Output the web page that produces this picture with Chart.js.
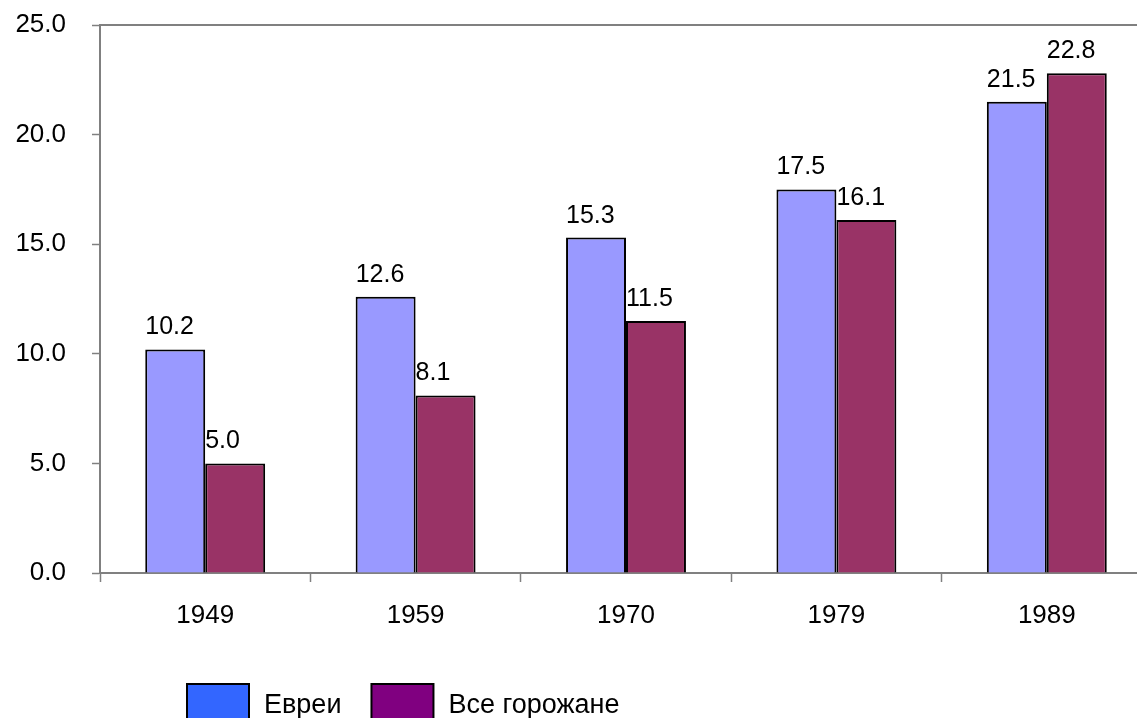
<!DOCTYPE html>
<html>
<head>
<meta charset="utf-8">
<script src="https://cdn.jsdelivr.net/npm/chart.js@4.4.0/dist/chart.umd.min.js"></script>
<style>
  html, body { margin: 0; padding: 0; background: #fff; overflow: hidden; }
  #wrap { position: relative; width: 1152px; height: 718px; }
</style>
</head>
<body>
<div id="wrap"><canvas id="chart"></canvas></div>
<script>
    "use strict";

    // Data
    var years = ['1949', '1959', '1970', '1979', '1989'];
    var seriesNames = ['Евреи', 'Все горожане'];
    var jews = [10.2, 12.6, 15.3, 17.5, 21.5];
    var townsfolk = [5.0, 8.1, 11.5, 16.1, 22.8];
    var yTicks = [0, 5, 10, 15, 20, 25];

    var barColors = ['#9999FF', '#993366'];
    var legendColors = ['#3366FF', '#800080'];
    var FONT = '"Liberation Sans", Arial, sans-serif';
    var AXIS_GREY = '#808080';

    // Value labels above each bar
    var valueLabels = {
        id: 'valueLabels',
        afterDatasetsDraw: function (chart) {
            var ctx = chart.ctx;
            ctx.save();
            ctx.font = '25px ' + FONT;
            ctx.fillStyle = '#000';
            ctx.textAlign = 'left';
            ctx.textBaseline = 'alphabetic';
            chart.data.datasets.forEach(function (ds, i) {
                chart.getDatasetMeta(i).data.forEach(function (bar, j) {
                    ctx.fillText(ds.data[j].toFixed(1), bar.x - bar.width / 2, bar.y - 15);
                });
            });
            ctx.restore();
        }
    };

    // Plot area frame (top line) and the legend at the bottom
    var frameAndLegend = {
        id: 'frameAndLegend',
        afterDraw: function (chart) {
            var ctx = chart.ctx;
            var a = chart.chartArea;
            ctx.save();
            ctx.strokeStyle = AXIS_GREY;
            ctx.lineWidth = 2;
            ctx.beginPath();
            ctx.moveTo(a.left, a.top);
            ctx.lineTo(a.right, a.top);
            ctx.stroke();

            ctx.font = '27px ' + FONT;
            ctx.textBaseline = 'alphabetic';
            var x = 187;
            seriesNames.forEach(function (name, i) {
                ctx.fillStyle = legendColors[i];
                ctx.fillRect(x, 684, 62, 40);
                ctx.strokeStyle = '#000';
                ctx.lineWidth = 2;
                ctx.strokeRect(x, 684, 62, 40);
                ctx.fillStyle = '#000';
                ctx.fillText(name, x + 77, 713);
                x += 77 + ctx.measureText(name).width + 30;
            });
            ctx.restore();
        }
    };

    var ctx = document.getElementById('chart').getContext('2d');
    var chart = new Chart(ctx, {
        type: 'bar',
        data: {
            labels: years,
            datasets: [{
                label: seriesNames[0],
                data: jews,
                backgroundColor: barColors[0],
                borderColor: '#000',
                borderWidth: 2,
                borderSkipped: 'bottom'
            }, {
                label: seriesNames[1],
                data: townsfolk,
                backgroundColor: barColors[1],
                borderColor: '#000',
                borderWidth: 2,
                borderSkipped: 'bottom'
            }]
        },
        options: {
            responsive: true,
            maintainAspectRatio: false,
            animation: false,
            datasets: {
                bar: { categoryPercentage: 0.57, barPercentage: 1.0 }
            },
            layout: { padding: { top: 25, right: 0, bottom: 85, left: 0 } },
            plugins: {
                legend: { display: false },
                tooltip: { enabled: false }
            },
            scales: {
                x: {
                    offset: true,
                    afterFit: function (scale) {
                        scale.height = 60;
                        scale.paddingLeft = 0;
                        scale.paddingRight = 0;
                    },
                    grid: {
                        offset: true,
                        drawOnChartArea: false,
                        drawTicks: true,
                        tickLength: 9,
                        tickWidth: 1.5,
                        tickColor: AXIS_GREY
                    },
                    border: { display: true, color: AXIS_GREY, width: 2 },
                    ticks: {
                        color: '#000',
                        padding: 18,
                        font: { family: FONT, size: 26 }
                    }
                },
                y: {
                    min: 0,
                    max: 25,
                    afterFit: function (scale) {
                        scale.width = 100;
                        scale.paddingTop = 0;
                        scale.paddingBottom = 0;
                    },
                    afterBuildTicks: function (scale) {
                        scale.ticks = yTicks.map(function (v) { return { value: v }; });
                    },
                    grid: {
                        drawOnChartArea: false,
                        drawTicks: true,
                        tickLength: 8,
                        tickWidth: 1.5,
                        tickColor: AXIS_GREY
                    },
                    border: { display: true, color: AXIS_GREY, width: 2 },
                    ticks: {
                        color: '#000',
                        padding: 26,
                        font: { family: FONT, size: 26 },
                        callback: function (v) { return Number(v).toFixed(1); }
                    }
                }
            }
        },
        plugins: [valueLabels, frameAndLegend]
    });
</script>
</body>
</html>
